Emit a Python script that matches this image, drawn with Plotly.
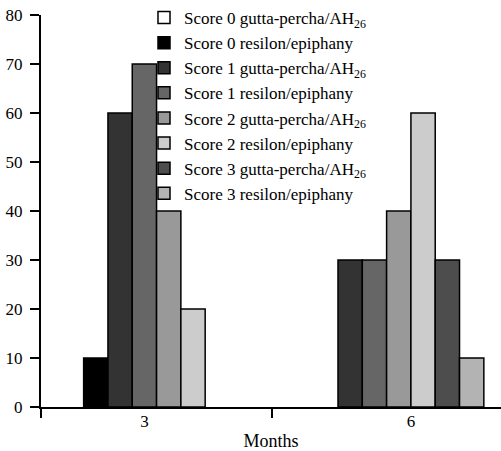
import plotly.graph_objects as go

# ---- data ----
months = ["3", "6"]
series_names = [
    "Score 0 gutta-percha/AH<sub>26</sub>",
    "Score 0 resilon/epiphany",
    "Score 1 gutta-percha/AH<sub>26</sub>",
    "Score 1 resilon/epiphany",
    "Score 2 gutta-percha/AH<sub>26</sub>",
    "Score 2 resilon/epiphany",
    "Score 3 gutta-percha/AH<sub>26</sub>",
    "Score 3 resilon/epiphany",
]
score0_gp = [0, 0]
score0_res = [10, 0]
score1_gp = [60, 30]
score1_res = [70, 30]
score2_gp = [40, 40]
score2_res = [20, 60]
score3_gp = [0, 30]
score3_res = [0, 10]
y_ticks = [0, 10, 20, 30, 40, 50, 60, 70, 80]

series_values = [score0_gp, score0_res, score1_gp, score1_res,
                 score2_gp, score2_res, score3_gp, score3_res]
colors = ["#ffffff", "#000000", "#333333", "#666666",
          "#999999", "#cccccc", "#4d4d4d", "#b3b3b3"]

# ---- layout constants ----
BAR_W = 0.0912
X_RANGE = [-0.388, 1.338]
BOUNDARY_TICKS = [-0.388, 0.478]
FONT = "Liberation Serif"
PLOT_H = 407          # margin top 0, bottom 44
Y_DOMAIN_TOP = (407 - 15) / PLOT_H

# position of each non-zero bar within its month group (zeros take no slot)
cat_pos = list(range(len(months)))
offsets = [[None] * len(months) for _ in series_values]
for j in range(len(months)):
    nz = [i for i, s in enumerate(series_values) if s[j] != 0]
    n = len(nz)
    for k, i in enumerate(nz):
        offsets[i][j] = (k - n / 2) * BAR_W

fig = go.Figure()
for i, (name, vals) in enumerate(zip(series_names, series_values)):
    ys = [v if v != 0 else None for v in vals]
    offs = [o if o is not None else 0 for o in offsets[i]]
    fig.add_trace(go.Bar(
        x=cat_pos, y=ys, name=name,
        width=BAR_W, offset=offs,
        marker=dict(color=colors[i], line=dict(color="black", width=1.5)),
    ))

fig.update_layout(
    width=501, height=451,
    margin=dict(l=41, r=0, t=0, b=44),
    plot_bgcolor="white", paper_bgcolor="white",
    barmode="overlay",
    font=dict(family=FONT, size=17, color="black"),
    showlegend=True,
    legend=dict(
        x=(144 - 41) / 460, xanchor="left",
        y=1.0, yanchor="top",
        bgcolor="rgba(0,0,0,0)",
        font=dict(family=FONT, size=17, color="black"),
        traceorder="normal",
    ),
    xaxis=dict(
        range=X_RANGE, tickmode="array", tickvals=cat_pos, ticktext=months,
        ticks="", automargin=False,
        showline=True, linecolor="black", linewidth=2,
        showgrid=False, zeroline=False,
        minor=dict(tickmode="array", tickvals=BOUNDARY_TICKS, ticks="outside",
                   ticklen=9, tickwidth=2, tickcolor="black", showgrid=False),
        title=dict(text="Months", font=dict(family=FONT, size=18), standoff=6),
        tickfont=dict(family=FONT, size=17),
        ticklabelstandoff=-2,
    ),
    yaxis=dict(
        domain=[0, Y_DOMAIN_TOP],
        range=[0, 80], tickmode="array", tickvals=y_ticks, automargin=False,
        ticks="outside", ticklen=9, tickwidth=2, tickcolor="black",
        showline=True, linecolor="black", linewidth=2,
        showgrid=False, zeroline=False,
        tickfont=dict(family=FONT, size=17),
        ticklabelstandoff=4,
    ),
)

fig.write_html("out.html",
               config={"displayModeBar": False},
               post_script="document.body.style.margin='0';document.body.style.overflow='hidden';")
